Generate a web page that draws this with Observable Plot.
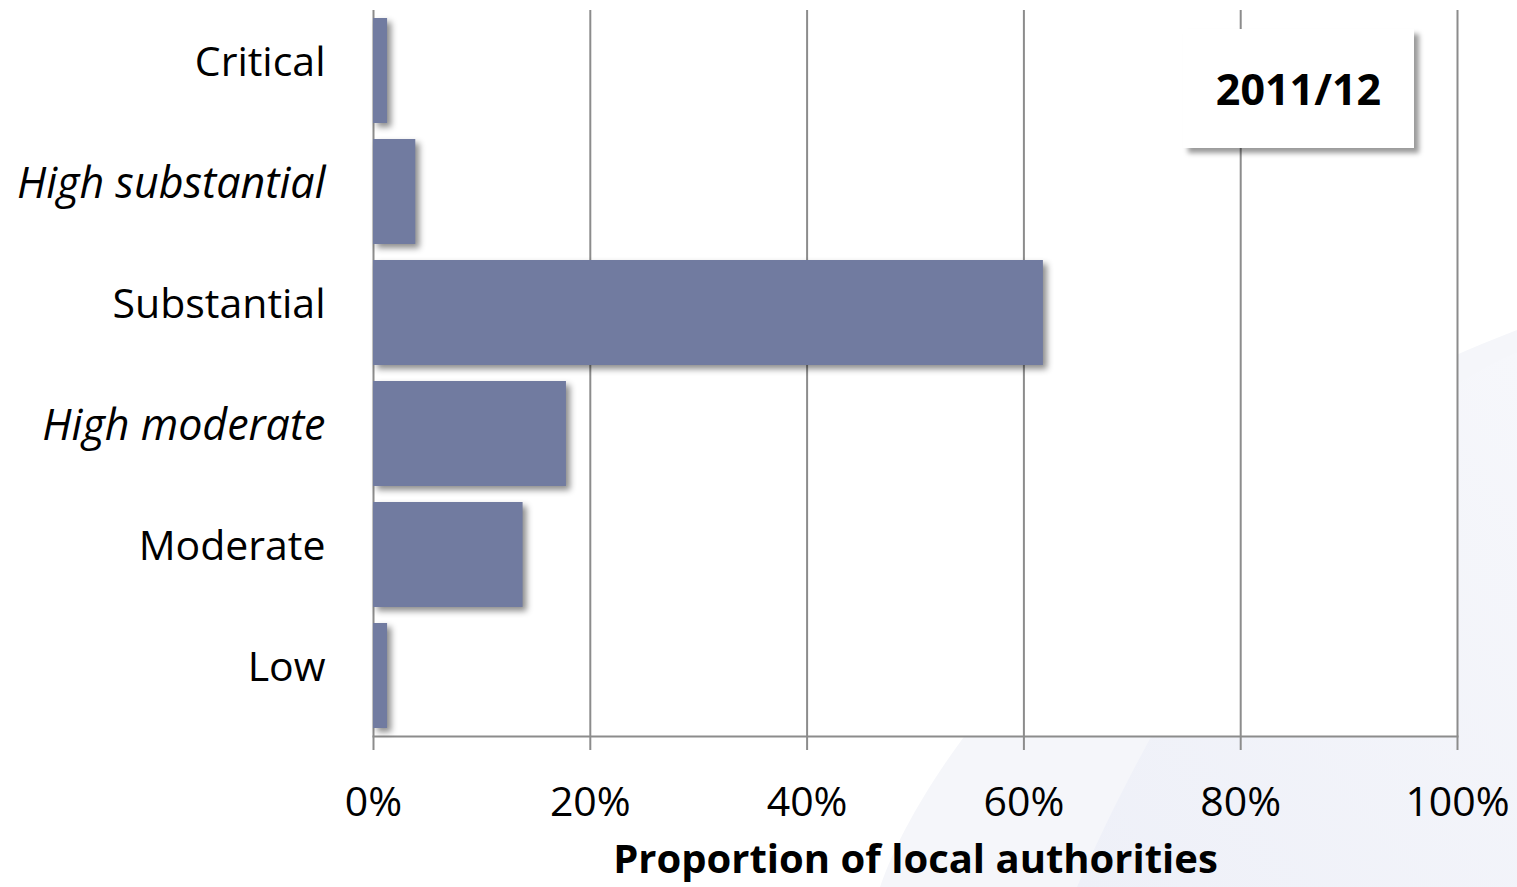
<!DOCTYPE html>
<html>
<head>
<meta charset="utf-8">
<script src="https://cdn.jsdelivr.net/npm/d3@7"></script>
<script src="https://cdn.jsdelivr.net/npm/@observablehq/plot@0.6"></script>
<style>
  html, body { margin: 0; padding: 0; background: #ffffff; }
  #wrap { position: relative; width: 1517px; height: 887px; overflow: hidden; font-family: "Open Sans", sans-serif; }
  #bg { position: absolute; left: 0; top: 0; }
  #chart { position: absolute; left: 0; top: 0; }
  #chart svg { background: transparent !important; }
  g[aria-label="bar"] { filter: drop-shadow(4px 4px 3px rgba(0,0,0,0.45)); }
  #yearbox {
    position: absolute; left: 1183px; top: 29px; width: 231px; height: 119px;
    background: #ffffff; box-shadow: 5px 5px 5px rgba(0,0,0,0.4);
    display: flex; align-items: center; justify-content: center;
    font-family: "Open Sans", sans-serif; font-weight: 700; font-size: 43px; color: #000;
  }
</style>
</head>
<body>
<div id="wrap">
  <svg id="bg" width="1517" height="887">
    <defs>
      <linearGradient id="g1" x1="0" y1="1" x2="1" y2="0">
        <stop offset="0" stop-color="#eef0f8"/>
        <stop offset="1" stop-color="#f6f7fb"/>
      </linearGradient>
    </defs>
    <path d="M880,887 C930,740 1150,470 1517,330 L1517,887 Z" fill="#f5f6fa"/>
    <path d="M1077,887 C1160,700 1300,450 1517,352 L1517,887 Z" fill="url(#g1)"/>
  </svg>
  <div id="chart"></div>
  <div id="yearbox">2011/12</div>
</div>
<script>
const categories = ["Critical", "High substantial", "Substantial", "High moderate", "Moderate", "Low"];
const italicCats = ["High substantial", "High moderate"];
const values = [1.3, 3.9, 61.8, 17.8, 13.8, 1.3];
const xTicks = [0, 20, 40, 60, 80, 100];
const xTitle = "Proportion of local authorities";

const data = categories.map((c, i) => ({category: c, value: values[i]}));
const gray = "#8c8c8c";

const chart = Plot.plot({
  width: 1517,
  height: 887,
  marginLeft: 373,
  marginRight: 60,
  marginTop: 10,
  marginBottom: 151,
  style: {background: "transparent", fontFamily: "Open Sans, sans-serif", color: "#000"},
  x: {domain: [0, 100], ticks: xTicks},
  y: {domain: categories, padding: 0, axis: null},
  marks: [
    Plot.frame({fill: "white", stroke: null}),
    Plot.ruleX(xTicks, {stroke: gray, strokeWidth: 2}),
    Plot.frame({anchor: "bottom", stroke: gray, strokeWidth: 2}),
    Plot.axisX({
      ticks: xTicks, tickSize: 14, tickPadding: 36, stroke: gray, strokeWidth: 2,
      tickFormat: d => d + "%", fontSize: 41, fill: "#000", label: null
    }),
    Plot.barX(data, {x: "value", y: "category", fill: "#717ba0", insetTop: 8, insetBottom: 8}),
    Plot.text(data.filter(d => !italicCats.includes(d.category)), {
      x: 0, y: "category", text: "category", textAnchor: "end", dx: -48, dy: -8,
      fontSize: 41, fill: "#000"
    }),
    Plot.text(data.filter(d => italicCats.includes(d.category)), {
      x: 0, y: "category", text: "category", textAnchor: "end", dx: -48, dy: -8,
      fontSize: 43, fontStyle: "italic", fill: "#000"
    }),
    Plot.text([xTitle], {
      frameAnchor: "bottom", text: d => d, dy: 136, fontSize: 40, fontWeight: "bold", fill: "#000"
    })
  ]
});
document.getElementById("chart").appendChild(chart);
</script>
</body>
</html>
